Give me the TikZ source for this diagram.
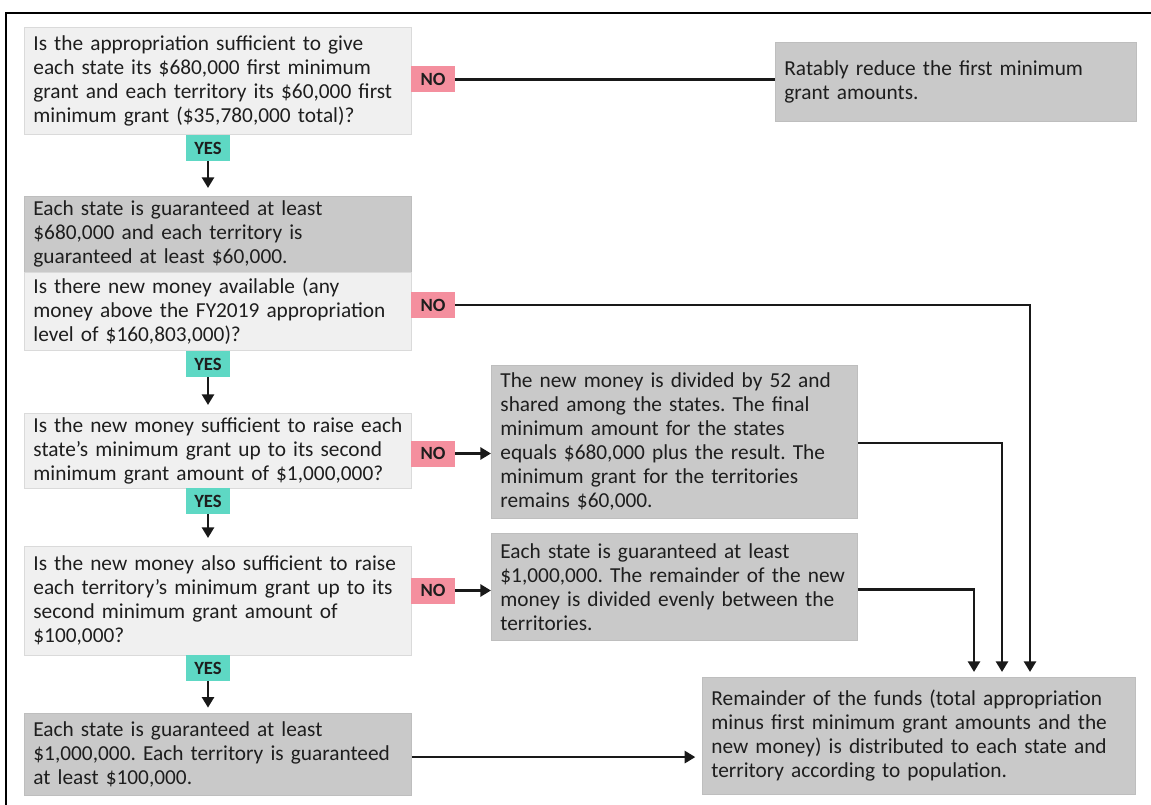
\documentclass[tikz,border=0pt]{standalone}
\usepackage{fontspec}
\setmainfont{Carlito}
\usetikzlibrary{arrows.meta,positioning}
\frenchspacing

\definecolor{qfill}{RGB}{240,240,240}
\definecolor{qline}{RGB}{218,218,218}
\definecolor{afill}{RGB}{201,201,201}
\definecolor{aline}{RGB}{190,190,190}
\definecolor{yesc}{RGB}{94,216,196}
\definecolor{noc}{RGB}{244,143,158}
\definecolor{txt}{RGB}{30,30,30}

\begin{document}
\begin{tikzpicture}[x=0.75pt,y=-0.75pt,
  box/.style={anchor=north west,align=left,inner xsep=6.75pt,inner ysep=0pt,
    font=\fontsize{16}{18}\selectfont,text=txt,line width=0.6pt},
  qbox/.style={box,fill=qfill,draw=qline},
  abox/.style={box,fill=afill,draw=aline},
  tag/.style={font=\bfseries\fontsize{14}{14}\selectfont,text=txt,
    minimum width=33pt,minimum height=19.5pt,inner sep=0pt},
  yes/.style={tag,fill=yesc},
  no/.style={tag,fill=noc},
  link/.style={line width=2pt,draw=black!90},
  arr/.style={link,-{Triangle[width=9pt,length=8pt]}}]
  \useasboundingbox (0,0) rectangle (1151,805);
  \draw[line width=1.5pt] (1151,13) -- (6,13) -- (6,805);

  % left column
  \node[qbox,text width=276.75pt,minimum height=80.25pt] (q1) at (24,27)
    {Is the appropriation sufficient to give\\each state its \$680,000 first minimum\\grant and each territory its \$60,000 first\\minimum grant (\$35,780,000 total)?};
  \node[abox,text width=276.75pt,minimum height=57pt] (s1) at (24,196)
    {Each state is guaranteed at least\\\$680,000 and each territory is\\guaranteed at least \$60,000.};
  \node[qbox,text width=276.75pt,minimum height=58.5pt] (q2) at (24,272)
    {Is there new money available (any\\money above the FY2019 appropriation\\level of \$160,803,000)?};
  \node[qbox,text width=276.75pt,minimum height=56.25pt] (q3) at (24,413)
    {Is the new money sufficient to raise each\\state's minimum grant up to its second\\minimum grant amount of \$1,000,000?};
  \node[qbox,text width=276.75pt,minimum height=81.75pt] (q4) at (24,546)
    {Is the new money also sufficient to raise\\each territory's minimum grant up to its\\second minimum grant amount of\\\$100,000?};
  \node[abox,text width=276.75pt,minimum height=61.5pt] (s2) at (24,713)
    {Each state is guaranteed at least\\\$1,000,000. Each territory is guaranteed\\at least \$100,000.};

  % right column
  \node[abox,text width=257.25pt,minimum height=59.25pt] (r1) at (775,42)
    {Ratably reduce the first minimum\\grant amounts.};
  \node[abox,text width=261pt,minimum height=114.75pt] (r2) at (491,365)
    {The new money is divided by 52 and\\shared among the states. The final\\minimum amount for the states\\equals \$680,000 plus the result. The\\minimum grant for the territories\\remains \$60,000.};
  \node[abox,text width=261pt,minimum height=80.25pt] (r3) at (491,533)
    {Each state is guaranteed at least\\\$1,000,000. The remainder of the new\\money is divided evenly between the\\territories.};
  \node[abox,text width=311.25pt,minimum height=87.75pt] (fin) at (702,677)
    {Remainder of the funds (total appropriation\\minus first minimum grant amounts and the\\new money) is distributed to each state and\\territory according to population.};

  % answers
  \node[no] (no1) at (433,79.5) {NO};
  \node[no] (no2) at (433,305) {NO};
  \node[no] (no3) at (433,453.5) {NO};
  \node[no] (no4) at (433,590.5) {NO};
  \node[yes] (yes1) at (208,148) {YES};
  \node[yes] (yes2) at (208,364) {YES};
  \node[yes] (yes3) at (208,501) {YES};
  \node[yes] (yes4) at (208,668) {YES};

  \coordinate (in1) at (974,677);
  \coordinate (in2) at (1002,677);
  \coordinate (in3) at (1030,677);

  % connectors
  \draw[arr,shorten >=6pt] (yes1.south) -- (yes1.south |- s1.north);
  \draw[arr,shorten >=6pt] (yes2.south) -- (yes2.south |- q3.north);
  \draw[arr,shorten >=6pt] (yes3.south) -- (yes3.south |- q4.north);
  \draw[arr,shorten >=4pt] (yes4.south) -- (yes4.south |- s2.north);
  \draw[link] (no1.east) -- (no1.east -| r1.west);
  \draw[arr,shorten >=3.75pt] (no2.east) -| (in3);
  \draw[arr] (no3.east) -- (no3.east -| r2.west);
  \draw[arr] (no4.east) -- (no4.east -| r3.west);
  \draw[arr,shorten >=3.75pt] ([yshift=-0.75pt]r2.east) -| (in2);
  \draw[arr,shorten >=3.75pt] ([yshift=-2pt]r3.east) -| (in1);
  \draw[arr,shorten >=5pt] ([yshift=-2pt]s2.east) -- ([yshift=-2pt]s2.east -| fin.west);
\end{tikzpicture}
\end{document}
